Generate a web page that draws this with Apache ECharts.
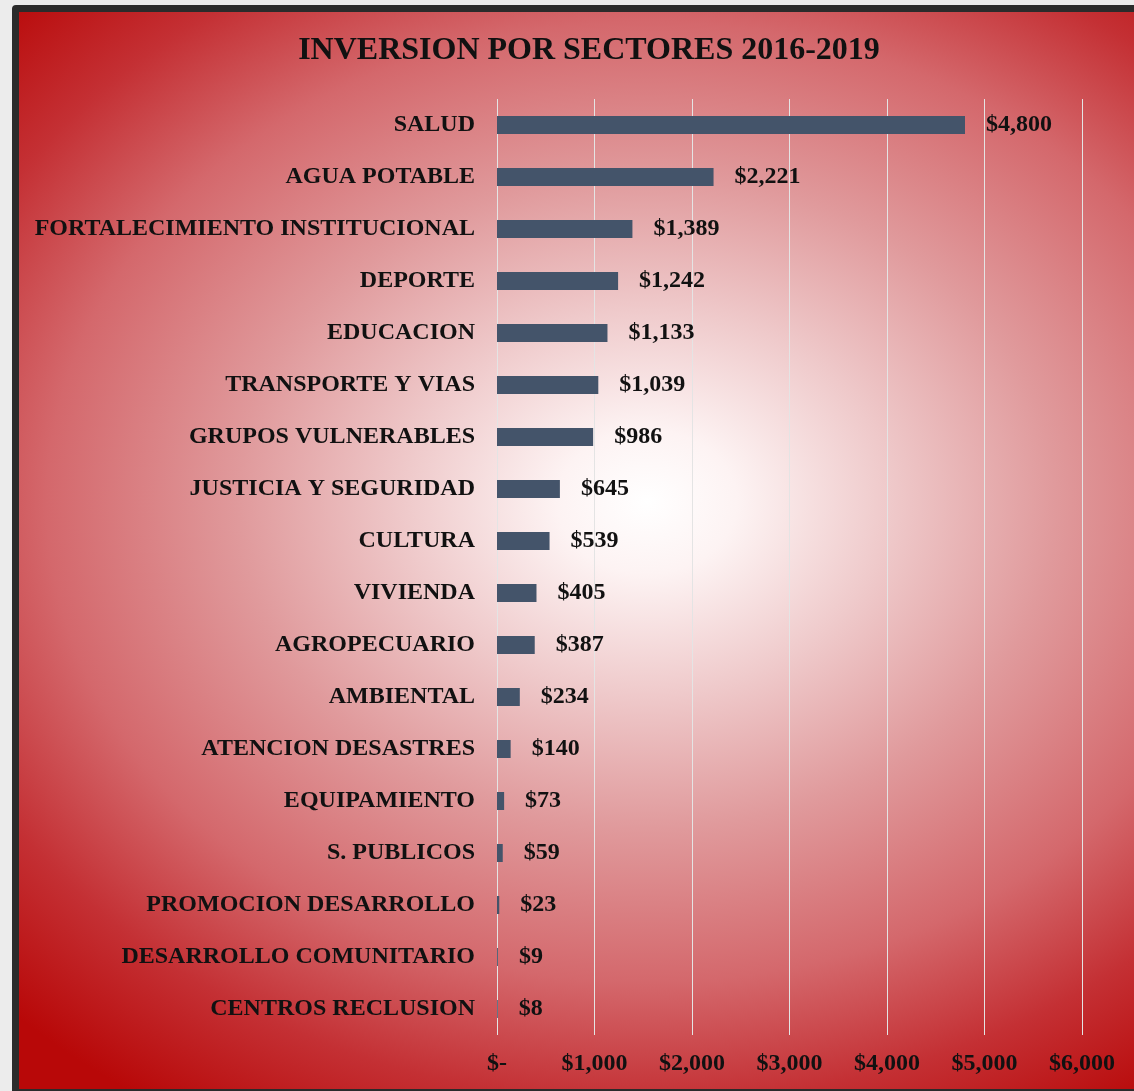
<!DOCTYPE html>
<html>
<head>
<meta charset="utf-8">
<script src="https://cdn.jsdelivr.net/npm/echarts@6/dist/echarts.min.js"></script>
<style>
html,body{margin:0;padding:0;width:1134px;height:1091px;overflow:hidden;background:#ececec;}
#frame{position:absolute;left:12px;top:5px;width:1140px;height:1077px;border:7px solid #2b2b2b;border-radius:4px;
background:radial-gradient(ellipse 600px 480px at 628px 490px,#ffffff 0%,#fdf3f3 15%,#efcacb 40%,#e09a9c 68%,#d4686c 100%,#c43034 125%,#b80808 150%);}
#chart{position:absolute;left:0;top:0;width:1134px;height:1091px;}
</style>
</head>
<body>
<div id="frame"></div>
<div id="chart"></div>
<script>
const titleText = "INVERSION POR SECTORES 2016-2019";
const categories = ["SALUD","AGUA POTABLE","FORTALECIMIENTO INSTITUCIONAL","DEPORTE","EDUCACION","TRANSPORTE Y VIAS","GRUPOS VULNERABLES","JUSTICIA Y SEGURIDAD","CULTURA","VIVIENDA","AGROPECUARIO","AMBIENTAL","ATENCION DESASTRES","EQUIPAMIENTO","S. PUBLICOS","PROMOCION DESARROLLO","DESARROLLO COMUNITARIO","CENTROS RECLUSION"];
const values = [4800,2221,1389,1242,1133,1039,986,645,539,405,387,234,140,73,59,23,9,8];
const axisMin = 0, axisMax = 6000, axisStep = 1000;

function money(v){
  if (v === 0) return "$-";
  return "$" + v.toLocaleString("en-US");
}
const font = "'Liberation Serif','Times New Roman',serif";
const chart = echarts.init(document.getElementById('chart'), null, {renderer:'canvas'});
chart.setOption({
  backgroundColor: 'transparent',
  animation: false,
  title: {
    text: titleText, left: 584, top: 30, textAlign: 'center',
    textStyle: {fontFamily: font, fontWeight: 'bold', fontSize: 32, color: '#111'}
  },
  grid: {left: 497, right: 52, top: 99, bottom: 56, containLabel: false},
  xAxis: {
    type: 'value', min: axisMin, max: axisMax, interval: axisStep,
    axisLine: {show: false}, axisTick: {show: false},
    splitLine: {show: true, lineStyle: {color: '#e4e4e4', width: 1}},
    axisLabel: {formatter: money, margin: 17, fontFamily: font, fontWeight: 'bold', fontSize: 24, color: '#111'}
  },
  yAxis: {
    type: 'category', data: categories, inverse: true,
    axisLine: {show: false}, axisTick: {show: false},
    axisLabel: {margin: 22, padding: [4,0,0,0], fontFamily: font, fontWeight: 'bold', fontSize: 24, color: '#111'}
  },
  series: [{
    type: 'bar', data: values, barWidth: 18,
    itemStyle: {color: '#44546a'},
    label: {show: true, position: 'right', distance: 21, padding: [4,0,0,0], formatter: p => money(p.value),
      fontFamily: font, fontWeight: 'bold', fontSize: 24, color: '#111'}
  }]
});
</script>
</body>
</html>
